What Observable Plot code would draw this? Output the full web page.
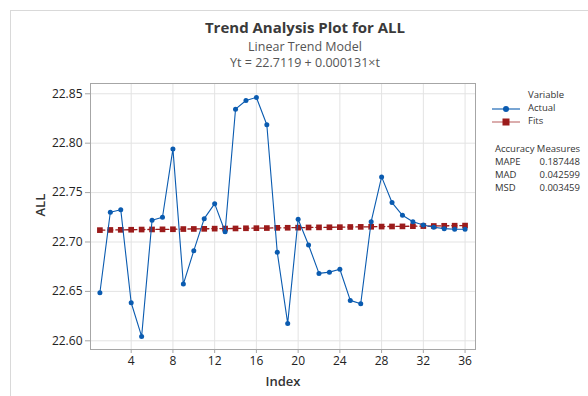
<!DOCTYPE html>
<html>
<head>
<meta charset="utf-8">
<script src="https://cdn.jsdelivr.net/npm/d3@7"></script>
<script src="https://cdn.jsdelivr.net/npm/@observablehq/plot@0.6"></script>
<style>
  html, body { margin: 0; padding: 0; background: #fff; }
  body { width: 588px; height: 396px; position: relative; overflow: hidden; font-family: "Open Sans", "Noto Sans", sans-serif; }
  #chart { position: absolute; left: 0; top: 0; }
  .frameline { position: absolute; left: 10px; top: 10px; width: 600px; height: 400px; border-top: 1px solid #d9d9d9; border-left: 1px solid #d9d9d9; }
  .t { position: absolute; white-space: nowrap; color: #333; line-height: 1; }
  .title { left: 0; width: 610px; text-align: center; }
  .leg { position: absolute; font-size: 9.5px; color: #333; white-space: nowrap; line-height: 1.2; }
</style>
</head>
<body>
<div class="frameline"></div>
<div id="chart"></div>
<div class="t title" style="top:20px;font-size:15px;font-weight:700;color:#3a3a3a;">Trend Analysis Plot for ALL</div>
<div class="t title" style="top:41px;font-size:12.5px;color:#555;">Linear Trend Model</div>
<div class="t title" style="top:57px;font-size:12.5px;color:#555;">Yt = 22.7119 + 0.000131×t</div>
<script>
const index = d3.range(1, 37);
const actual = [
  22.6486, 22.7301, 22.7327, 22.6385, 22.6044, 22.7220, 22.7250, 22.7942, 22.6574, 22.6912,
  22.7236, 22.7388, 22.7104, 22.8344, 22.8432, 22.8463, 22.8186, 22.6896, 22.6176, 22.7230,
  22.6970, 22.6682, 22.6695, 22.6724, 22.6409, 22.6375, 22.7205, 22.7659, 22.7399, 22.7270,
  22.7205, 22.7172, 22.7149, 22.7135, 22.7129, 22.7129
];
const fits = [
  22.7120, 22.7122, 22.7123, 22.7124, 22.7126, 22.7127, 22.7128, 22.7129, 22.7131, 22.7132,
  22.7133, 22.7135, 22.7136, 22.7137, 22.7139, 22.7140, 22.7141, 22.7143, 22.7144, 22.7145,
  22.7147, 22.7148, 22.7149, 22.7150, 22.7152, 22.7153, 22.7154, 22.7156, 22.7157, 22.7158,
  22.7160, 22.7161, 22.7162, 22.7164, 22.7165, 22.7166
];
const xTicks = [4, 8, 12, 16, 20, 24, 28, 32, 36];
const yTicks = [22.60, 22.65, 22.70, 22.75, 22.80, 22.85];
const accuracyNames = ["MAPE", "MAD", "MSD"];
const accuracyValues = ["0.187448", "0.042599", "0.003459"];

const actualData = index.map((t, i) => ({t, v: actual[i]}));
const fitsData = index.map((t, i) => ({t, v: fits[i]}));

const blue = "#0a5bb0";
const red = "#9b1b1b";

const plot = Plot.plot({
  width: 588,
  height: 396,
  marginTop: 83,
  marginBottom: 47,
  marginLeft: 90,
  marginRight: 113,
  style: {fontFamily: "'Open Sans', 'Noto Sans', sans-serif", fontSize: "12px", color: "#222", background: "transparent"},
  x: {domain: [0.1, 37.0]},
  y: {domain: [22.5912, 22.8604]},
  marks: [
    Plot.gridX(xTicks, {stroke: "#e3e3e3", strokeOpacity: 1}),
    Plot.gridY(yTicks, {stroke: "#e3e3e3", strokeOpacity: 1}),
    Plot.frame({stroke: "#a6a6a6"}),
    Plot.axisX(xTicks, {tickSize: 4, tickPadding: 3, stroke: "#a6a6a6", fontSize: 12, fill: "#222", label: null, tickFormat: d => String(d)}),
    Plot.axisY(yTicks, {tickSize: 5, tickPadding: 3, stroke: "#a6a6a6", fontSize: 12, fill: "#222", label: null, tickFormat: d => d.toFixed(2)}),
    Plot.line(fitsData, {x: "t", y: "v", stroke: red, strokeWidth: 1.3, strokeDasharray: "5,3"}),
    Plot.dot(fitsData, {x: "t", y: "v", symbol: "square", r: 3.2, fill: red, stroke: "none"}),
    Plot.line(actualData, {x: "t", y: "v", stroke: blue, strokeWidth: 1.1}),
    Plot.dot(actualData, {x: "t", y: "v", r: 2.5, fill: blue, stroke: "none"}),
    Plot.text(["Index"], {frameAnchor: "bottom", dy: 36, text: d => d, fontSize: 13, fontWeight: 600, fill: "#333", textAnchor: "middle"}),
    Plot.text(["ALL"], {frameAnchor: "left", dx: -50, rotate: -90, text: d => d, fontSize: 13, fontWeight: 600, fill: "#333"})
  ]
});
document.getElementById("chart").appendChild(plot);

// legend
const body = document.body;
function addDiv(html, style) {
  const d = document.createElement("div");
  d.className = "leg";
  d.innerHTML = html;
  d.setAttribute("style", style);
  body.appendChild(d);
  return d;
}
addDiv("Variable", "left:528px;top:89px;");
addDiv("Actual", "left:528px;top:102px;");
addDiv("Fits", "left:528px;top:115px;");
const legSvg = d3.create("svg").attr("width", 40).attr("height", 30)
  .style("position", "absolute").style("left", "490px").style("top", "102px");
legSvg.append("line").attr("x1", 2).attr("x2", 30).attr("y1", 7).attr("y2", 7).attr("stroke", blue).attr("stroke-width", 1.1);
legSvg.append("circle").attr("cx", 16).attr("cy", 7).attr("r", 3).attr("fill", blue);
legSvg.append("line").attr("x1", 2).attr("x2", 30).attr("y1", 20).attr("y2", 20).attr("stroke", red).attr("stroke-width", 1.2).attr("stroke-opacity", 0.6);
legSvg.append("rect").attr("x", 12.5).attr("y", 16.5).attr("width", 7).attr("height", 7).attr("fill", red);
body.appendChild(legSvg.node());

addDiv("Accuracy Measures", "left:495px;top:143px;");
accuracyNames.forEach((n, i) => {
  addDiv(n, `left:495px;top:${156 + i * 13}px;`);
  addDiv(accuracyValues[i], `right:${588 - 580}px;top:${156 + i * 13}px;text-align:right;`);
});
</script>
</body>
</html>
